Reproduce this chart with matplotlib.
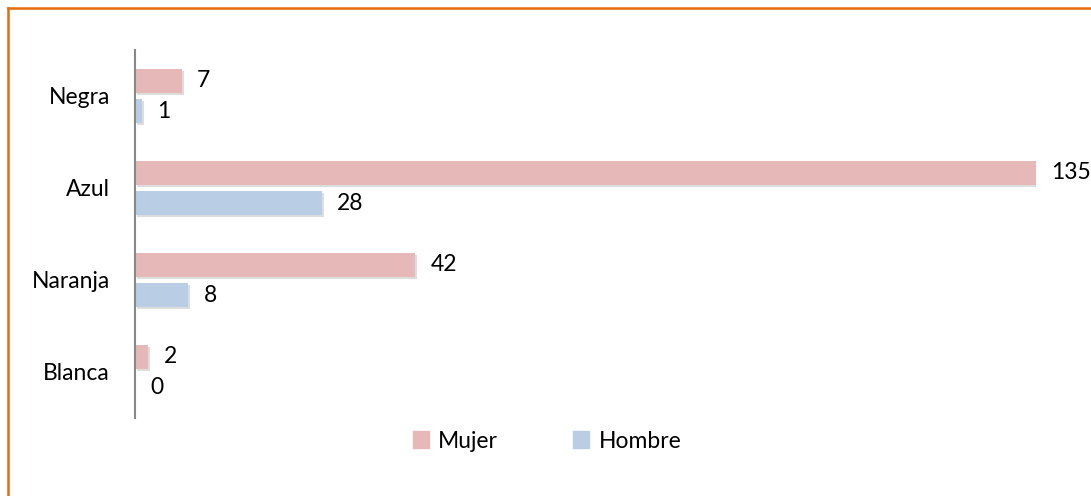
import matplotlib.pyplot as plt
import matplotlib.patheffects as pe
from matplotlib.lines import Line2D
from matplotlib.patches import Patch
import numpy as np

plt.rcParams['font.family'] = ['Lato', 'DejaVu Sans']
plt.rcParams['font.size'] = 16.5

categorias = ['Negra', 'Azul', 'Naranja', 'Blanca']
mujer = [7, 135, 42, 2]
hombre = [1, 28, 8, 0]

c_mujer = '#E6B9B8'
c_hombre = '#B9CDE5'

fig = plt.figure(figsize=(10.91, 4.96), dpi=100)
ax = fig.add_axes([135/1091, 1 - 418/496, (1036 - 135)/1091, 368/496])

y = np.arange(len(categorias))
h = 0.265
sombra = [pe.SimplePatchShadow(offset=(1.5, -1.5), shadow_rgbFace='#aaaaaa', alpha=0.4), pe.Normal()]

b1 = ax.barh(y - 0.165, mujer, height=h, color=c_mujer, path_effects=sombra)
b2 = ax.barh(y + 0.165, hombre, height=h, color=c_hombre, path_effects=sombra)

for bars, vals in ((b1, mujer), (b2, hombre)):
    for bar, v in zip(bars, vals):
        ax.annotate(str(v), (bar.get_width(), bar.get_y() + bar.get_height()/2),
                    xytext=(11, 0), textcoords='offset points', va='center', ha='left',
                    annotation_clip=False)

ax.set_xlim(0, 135)
ax.set_ylim(len(categorias) - 0.5, -0.5)
ax.set_yticks(y)
ax.set_yticklabels(categorias)
ax.tick_params(axis='y', length=0, pad=18)
ax.set_xticks([])
for s in ['top', 'right', 'bottom']:
    ax.spines[s].set_visible(False)
ax.spines['left'].set_color('#888888')
ax.spines['left'].set_linewidth(1.5)

handles = [Patch(color=c_mujer, label='Mujer'), Patch(color=c_hombre, label='Hombre')]
fig.legend(handles=handles, loc='center', bbox_to_anchor=(547/1091, 1 - 441/496),
           ncol=2, frameon=False, handlelength=0.7, handleheight=0.7,
           columnspacing=3.3, handletextpad=0.4)

# orange frame
fig.add_artist(Line2D([8/1091, 8/1091], [0, 1 - 8/496], transform=fig.transFigure, color='#E46C0A', lw=1.8))
fig.add_artist(Line2D([8/1091, 1], [1 - 8/496, 1 - 8/496], transform=fig.transFigure, color='#E46C0A', lw=1.8))

fig.savefig('out.png', dpi=100)
